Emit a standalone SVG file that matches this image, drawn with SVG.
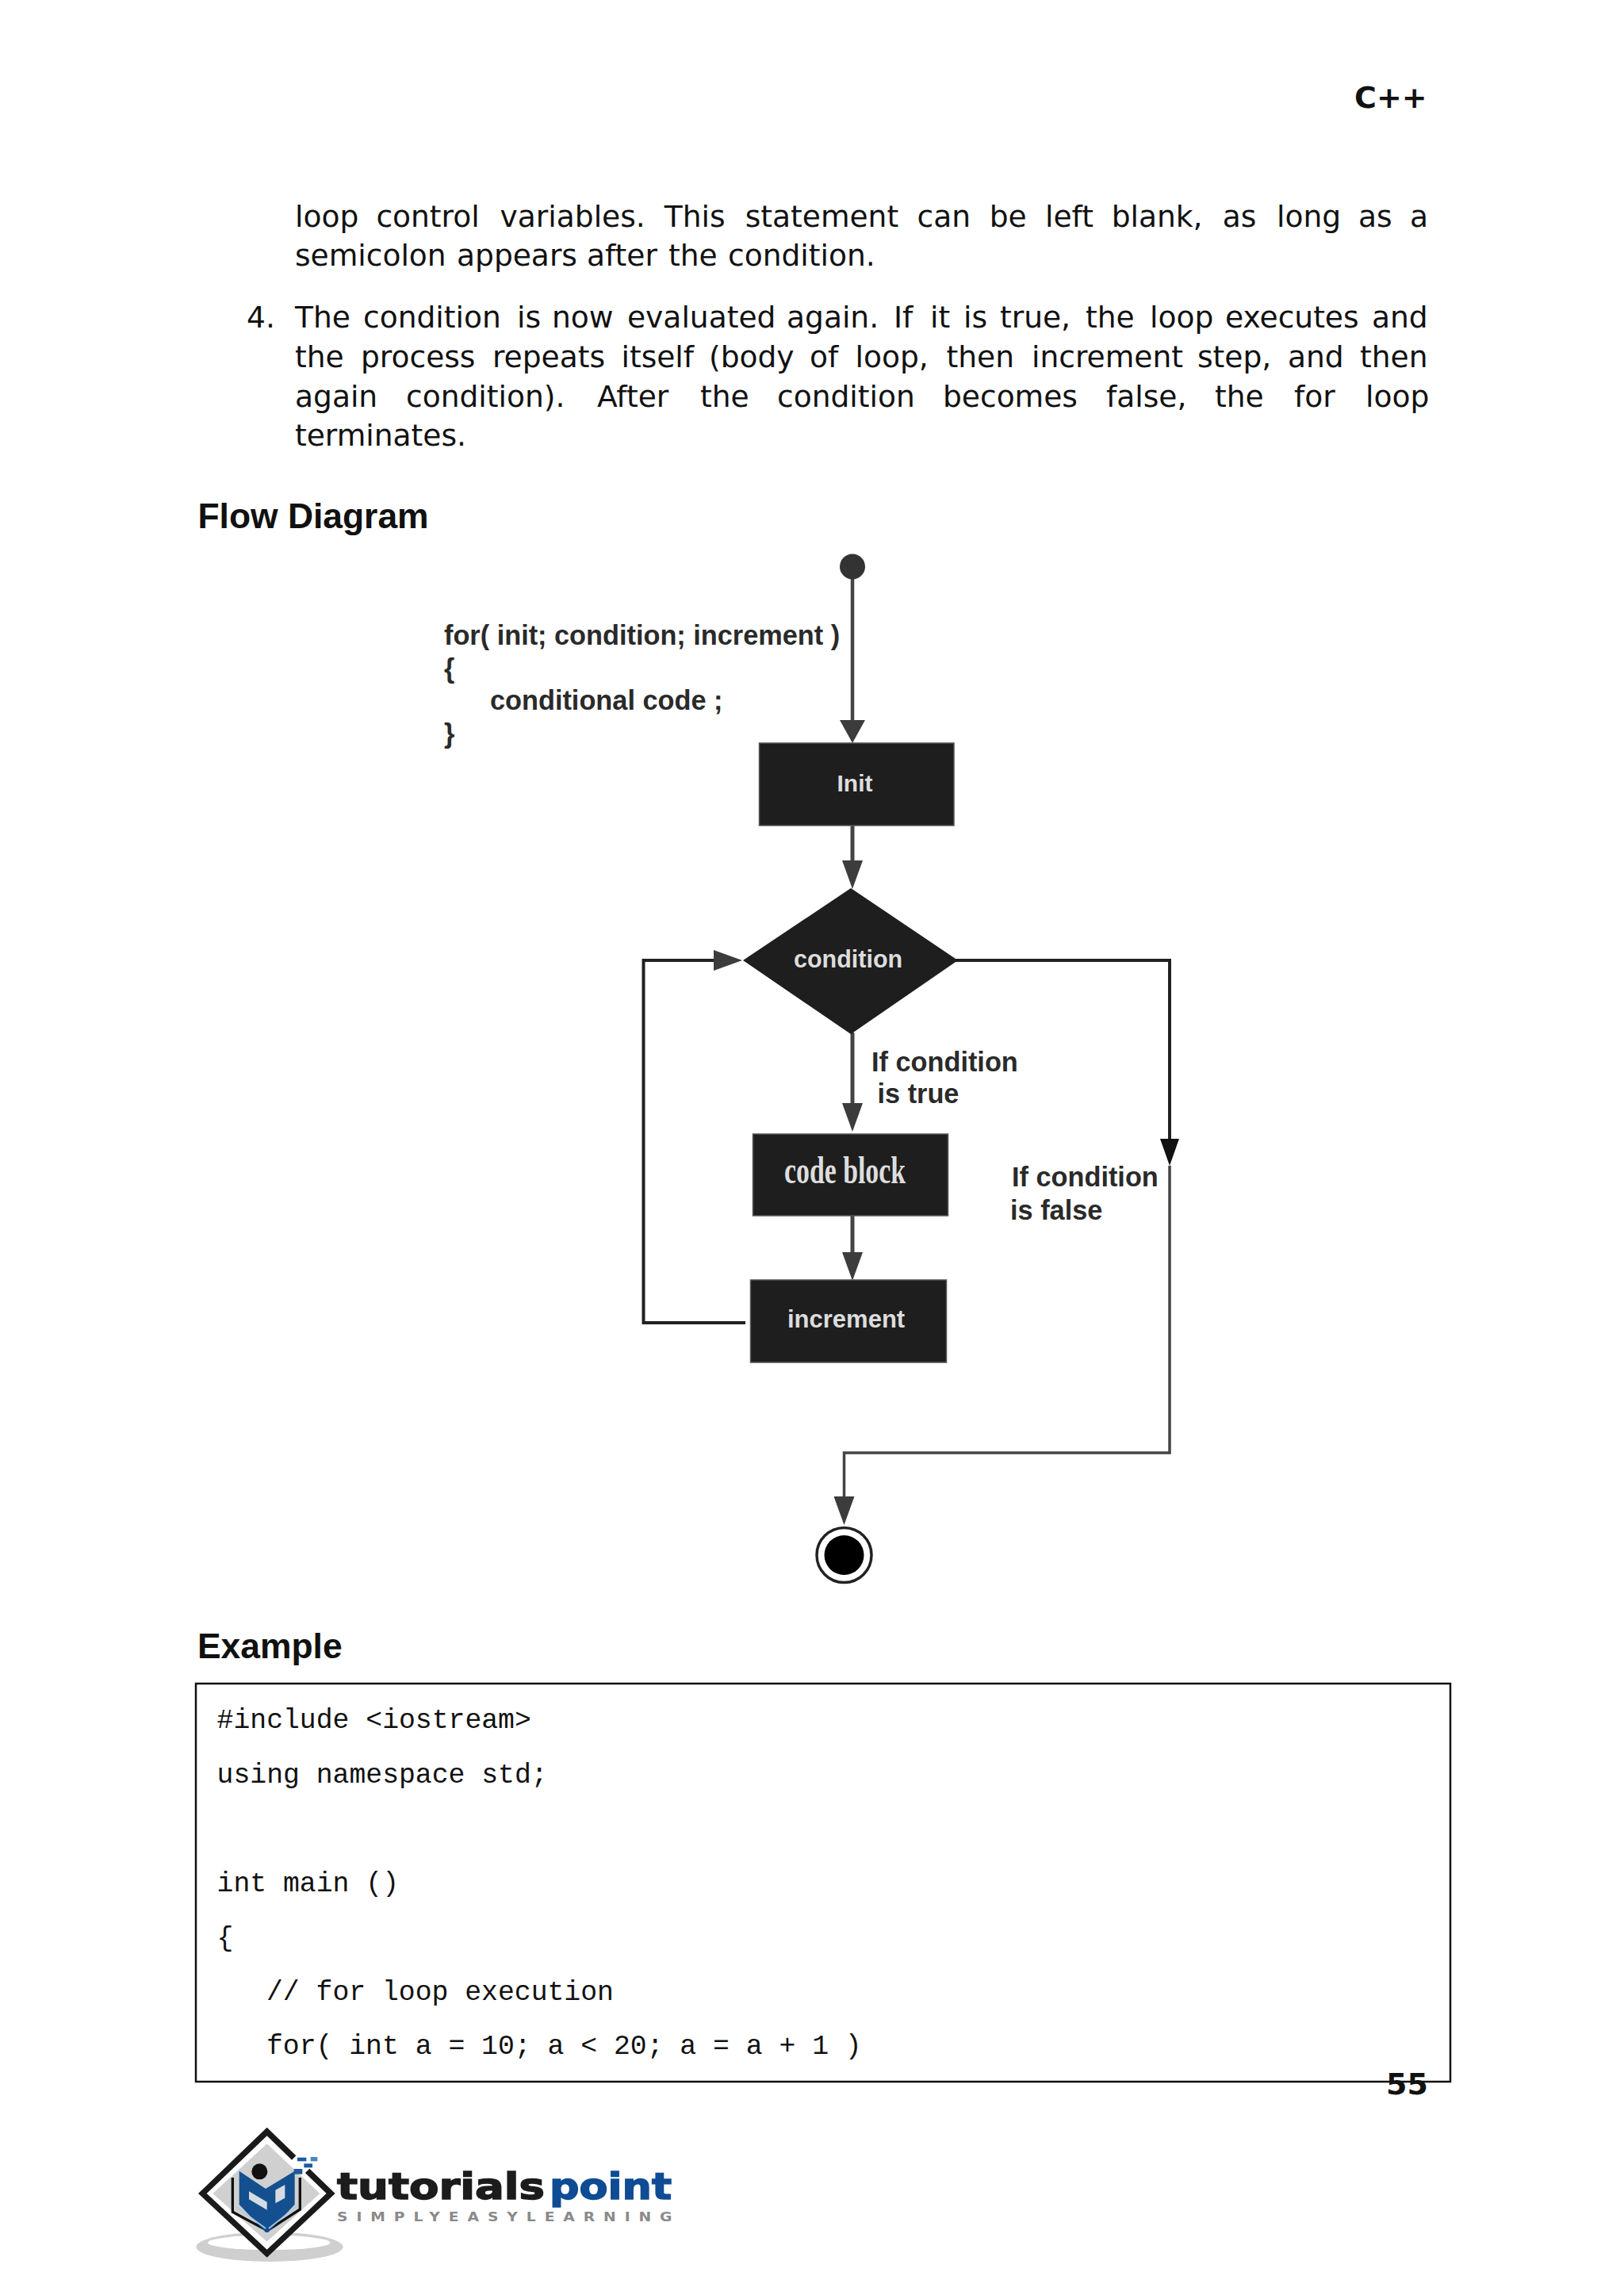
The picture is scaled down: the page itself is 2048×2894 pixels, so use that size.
<svg xmlns="http://www.w3.org/2000/svg" width="2048" height="2894" viewBox="0 0 2048 2894">
<style>
.body{font-family:"DejaVu Sans",Verdana,sans-serif;font-size:37.6px;fill:#111}
.page{font-family:"DejaVu Sans",Verdana,sans-serif;font-size:38px;font-weight:bold;fill:#111}
.h{font-family:"Liberation Sans",Arial,sans-serif;font-size:44.4px;font-weight:bold;fill:#111}
.lab{font-family:"Liberation Sans",Arial,sans-serif;font-size:34.3px;font-weight:bold;fill:#2a2a2a}
.in{font-family:"Liberation Sans",Arial,sans-serif;font-weight:bold;fill:#ddd}
.code{font-family:"Liberation Mono","DejaVu Sans Mono",monospace;font-size:34.75px;fill:#111}
.box{fill:#1e1e1e;stroke:#555;stroke-width:1.5}
.c{fill:none;stroke:#444;stroke-width:5}
.k{fill:none;stroke:#222;stroke-width:4}
</style>
<defs>
<marker id="gray" markerUnits="userSpaceOnUse" viewBox="0 0 36 26" refX="4" refY="13" markerWidth="36" markerHeight="26" orient="auto"><path d="M0 0L36 13L0 26Z" fill="#3c3c3c"/></marker>
<marker id="wide" markerUnits="userSpaceOnUse" viewBox="0 0 29 32" refX="4" refY="16" markerWidth="29" markerHeight="32" orient="auto"><path d="M0 0L29 16L0 32Z" fill="#3c3c3c"/></marker>
<marker id="black" markerUnits="userSpaceOnUse" viewBox="0 0 34 24" refX="4" refY="12" markerWidth="34" markerHeight="24" orient="auto"><path d="M0 0L34 12L0 24Z" fill="#111"/></marker>
</defs>
<rect width="2048" height="2894" fill="#fff"/>

<g id="page-text">
<text class="page" x="1708" y="136">C++</text>
<text class="body" y="286"><tspan x="372">loop</tspan> <tspan x="474.4">control</tspan> <tspan x="630.6">variables.</tspan> <tspan x="837.7">This</tspan> <tspan x="939.7">statement</tspan> <tspan x="1156.6">can</tspan> <tspan x="1247.7">be</tspan> <tspan x="1318">left</tspan> <tspan x="1401.7">blank,</tspan> <tspan x="1541.7">as</tspan> <tspan x="1610">long</tspan> <tspan x="1713">as</tspan> <tspan x="1778">a</tspan></text>
<text class="body" y="335"><tspan x="372">semicolon</tspan> <tspan x="576">appears</tspan> <tspan x="740">after</tspan> <tspan x="843">the</tspan> <tspan x="918">condition.</tspan></text>
<text class="body" x="311" y="412.5">4.</text>
<text class="body" y="412.5"><tspan x="372">The</tspan> <tspan x="458">condition</tspan> <tspan x="652">is</tspan> <tspan x="696">now</tspan> <tspan x="791">evaluated</tspan> <tspan x="992">again.</tspan> <tspan x="1127">If</tspan> <tspan x="1173">it</tspan> <tspan x="1215">is</tspan> <tspan x="1261">true,</tspan> <tspan x="1369">the</tspan> <tspan x="1450">loop</tspan> <tspan x="1545">executes</tspan> <tspan x="1730">and</tspan></text>
<text class="body" y="462.5"><tspan x="372">the</tspan> <tspan x="455">process</tspan> <tspan x="621">repeats</tspan> <tspan x="783.5">itself</tspan> <tspan x="894">(body</tspan> <tspan x="1021">of</tspan> <tspan x="1078.5">loop,</tspan> <tspan x="1193.5">then</tspan> <tspan x="1301">increment</tspan> <tspan x="1510">step,</tspan> <tspan x="1624">and</tspan> <tspan x="1715">then</tspan></text>
<text class="body" y="512.5"><tspan x="372">again</tspan> <tspan x="512">condition).</tspan> <tspan x="753">After</tspan> <tspan x="883">the</tspan> <tspan x="980">condition</tspan> <tspan x="1189">becomes</tspan> <tspan x="1395">false,</tspan> <tspan x="1532">the</tspan> <tspan x="1632">for</tspan> <tspan x="1722">loop</tspan></text>
<text class="body" x="372" y="561.5">terminates.</text>
<text class="h" x="249.5" y="666">Flow Diagram</text>
<text class="h" x="249" y="2091">Example</text>
</g>

<g id="connectors">
<path class="c" style="stroke-width:4.5" d="M1075 729V912" marker-end="url(#wide)"/>
<path class="c" d="M1075 1041V1089" marker-end="url(#gray)"/>
<path class="k" d="M940 1668H811.5V1211H904" marker-end="url(#gray)"/>
<path class="c" d="M1075 1302V1395" marker-end="url(#gray)"/>
<path class="c" d="M1075 1533V1583" marker-end="url(#gray)"/>
<path class="k" d="M1204 1211H1475V1440" marker-end="url(#black)"/>
<path class="c" style="stroke-width:3.5" d="M1475 1470V1832H1064.5V1891" marker-end="url(#gray)"/>
</g>

<g id="start"><circle cx="1075" cy="714.5" r="16" fill="#333"/></g>
<g id="init"><rect class="box" x="957.5" y="937" width="245.5" height="104"/><text class="in" x="1078" y="998" font-size="30" text-anchor="middle">Init</text></g>
<g id="condition"><polygon points="937,1211 1073,1120 1208,1211 1073,1304" fill="#1e1e1e"/><text class="in" x="1001" y="1219.5" font-size="30.5">condition</text></g>
<g id="code-block"><rect class="box" x="949.5" y="1430" width="246" height="103"/><text x="989" y="1492" font-family="'Liberation Serif',serif" font-weight="bold" font-size="48" fill="#ddd" textLength="153" lengthAdjust="spacingAndGlyphs">code block</text></g>
<g id="increment"><rect class="box" x="946.5" y="1614" width="247" height="104"/><text class="in" x="993" y="1674" font-size="31">increment</text></g>
<g id="end"><circle cx="1064.5" cy="1961" r="34.5" fill="#fff" stroke="#222" stroke-width="3.5"/><circle cx="1064.5" cy="1961" r="25" fill="#000"/></g>

<g id="labels">
<text class="lab" x="560" y="812.5">for( init; condition; increment )</text>
<text class="lab" x="560" y="855">{</text>
<text class="lab" x="618" y="895">conditional code ;</text>
<text class="lab" x="560" y="937">}</text>
<text class="lab" x="1099" y="1351">If condition</text>
<text class="lab" x="1106.5" y="1391">is true</text>
<text class="lab" x="1276" y="1496">If condition</text>
<text class="lab" x="1274" y="1537.5">is false</text>
</g>

<g id="code">
<rect x="247" y="2123" width="1582" height="502" fill="none" stroke="#111" stroke-width="2.5"/>
<text class="code" x="273.6" y="2179">#include &lt;iostream&gt;</text>
<text class="code" x="273.6" y="2248">using namespace std;</text>
<text class="code" x="273.6" y="2385">int main ()</text>
<text class="code" x="273.6" y="2454">{</text>
<text class="code" x="336" y="2521.5">// for loop execution</text>
<text class="code" x="336" y="2590">for( int a = 10; a &lt; 20; a = a + 1 )</text>
</g>
<text id="page-number" class="page" x="1748" y="2641">55</text>

<g id="logo">
<g transform="translate(240 2670) scale(.3333)">
<ellipse cx="300" cy="490" rx="278" ry="56" fill="#cfcfcf"/>
<ellipse cx="298" cy="474" rx="232" ry="28" fill="#fff"/>
<polygon points="290,38 548,288 290,530 30,288" fill="#1a1a1a"/>
<polygon points="290,70 515,288 290,500 62,288" fill="#fff"/>
<polygon points="290,100 490,288 290,470 85,288" fill="#d0d0d0"/>
<polygon points="410,135 460,185 425,220 375,170" fill="#fff"/>
<path d="M160,228V358L285,425M415,228V348L297,425" fill="none" stroke="#111" stroke-width="10"/>
<polygon points="185,203 285,270 395,203 395,330 295,435 285,435 185,330" fill="#14508f"/>
<path d="M175,340L285,420M405,335L297,420" fill="none" stroke="#a8c8e8" stroke-width="5"/>
<polygon points="222,280 290,320 290,350 222,310" fill="#d5dbe2"/>
<polygon points="322,275 358,255 358,305 322,325" fill="#d5dbe2"/>
<circle cx="262" cy="205" r="30" fill="#111"/>
<g fill="#1c5aa0"><rect x="405" y="152" width="34" height="14"/><rect x="455" y="150" width="26" height="16" fill="#4a86c0"/><rect x="430" y="175" width="32" height="15"/><rect x="392" y="195" width="32" height="20"/></g>
</g>
<text x="425" y="2773" font-family="'DejaVu Sans',sans-serif" font-weight="bold" font-size="46" fill="#1c1c1c" stroke="#1c1c1c" stroke-width="1.5" textLength="262" lengthAdjust="spacingAndGlyphs">tutorials</text>
<text x="693" y="2773" font-family="'DejaVu Sans',sans-serif" font-weight="bold" font-size="46" fill="#0f4c94" stroke="#0f4c94" stroke-width="1.5" textLength="154" lengthAdjust="spacingAndGlyphs">point</text>
<text transform="translate(425 2801) scale(1.25 1)" font-family="'DejaVu Sans',sans-serif" font-weight="bold" font-size="15" fill="#8a8a8a" textLength="338" lengthAdjust="spacing">SIMPLYEASYLEARNING</text>
</g>
</svg>
